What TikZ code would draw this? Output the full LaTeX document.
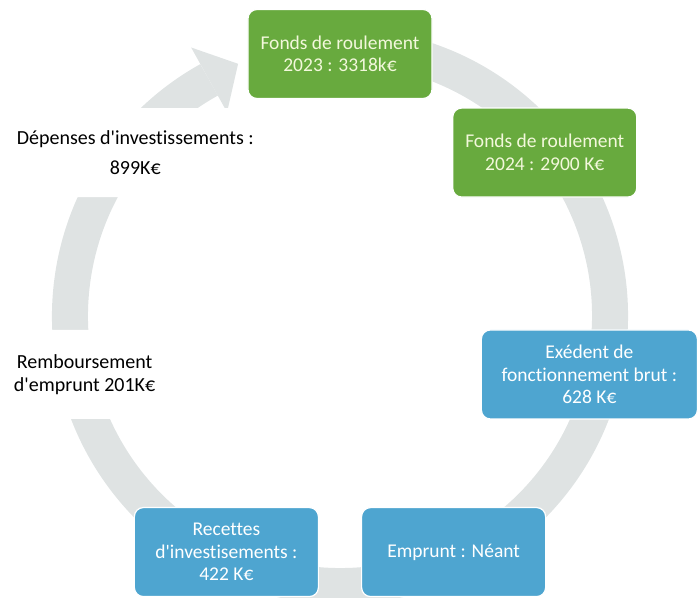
\documentclass[tikz,border=0pt]{standalone}
\usepackage{fontspec}
\newfontfamily\boxfont{Carlito}[Ligatures=NoCommon]
\definecolor{boxgreen}{HTML}{68AA3E}
\definecolor{boxblue}{HTML}{4EA5D0}
\definecolor{ringgray}{HTML}{DFE3E3}
\definecolor{greentext}{HTML}{F3F8DC}
\begin{document}
\begin{tikzpicture}[x=1pt,y=1pt,
	box/.style={rounded corners=9pt,draw=white,line width=1.2pt,minimum width=184pt,minimum height=89pt,align=center,text=white,font=\boxfont\fontsize{19.5}{22.5}\selectfont},
	greenbox/.style={box,fill=boxgreen,text=greentext},
	bluebox/.style={box,fill=boxblue},
	labelbox/.style={box,draw=none,fill=white,text=black,font=\boxfont\fontsize{20}{22.5}\selectfont}]
		\useasboundingbox (-340,-281) rectangle (358,316);
		% Circular arrow
		\draw[ringgray,line width=36pt] (80:270) arc[start angle=80,end angle=-241,radius=270];
		\fill[ringgray] (119:307) -- (112:272) -- (119:233) -- cycle;
		% Fonds de roulement
		\node[greenbox] (fr23) at (90:262) {Fonds de roulement\\2023 : 3318k€};
		\node[greenbox] (fr24) at (38.6:262) {Fonds de roulement\\2024 : 2900 K€};
		% Recettes
		\node[bluebox,minimum width=216pt,xshift=-6pt] (ebf) at (-12.9:262) {Exédent de\\fonctionnement brut :\\628 K€};
		\node[bluebox] (emp) at (-64.3:262) {Emprunt : Néant};
		\node[bluebox] (rec) at (-115.7:262) {Recettes\\d'investisements :\\422 K€};
		% Depenses
		\node[labelbox] (remb) at (-167.1:262) {Remboursement\\d'emprunt 201K€};
		\node[labelbox] (dep) at (141.4:262) {Dépenses d'investissements :\\[8pt]899K€};
\end{tikzpicture}
\end{document}
